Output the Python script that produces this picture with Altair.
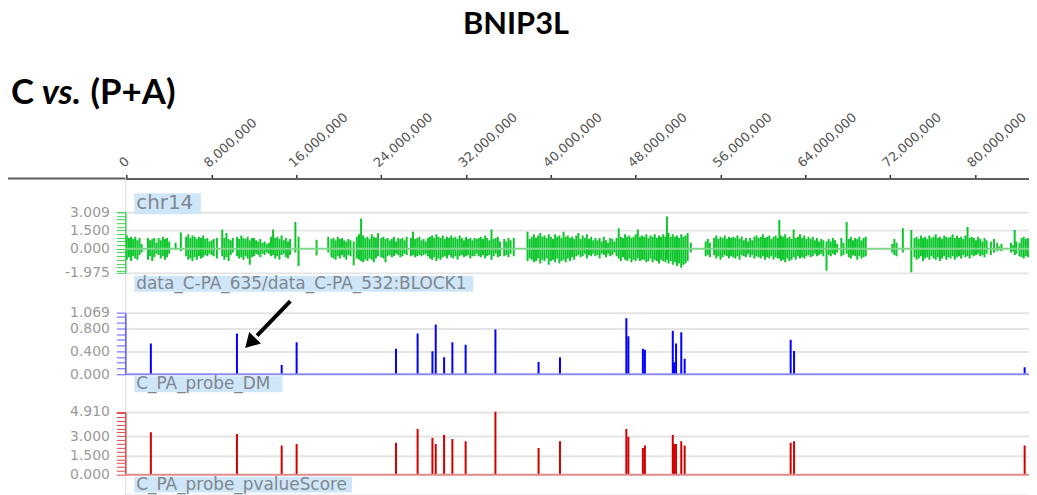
import altair as alt
import pandas as pd

# ---------------- text ----------------
TITLE = "BNIP3L"
SUBTITLE_PARTS = ["C", "vs.", "(P+A)"]
TRACK_LABELS = ["chr14", "data_C-PA_635/data_C-PA_532:BLOCK1",
                "C_PA_probe_DM", "C_PA_probe_pvalueScore"]

# ---------------- axes ----------------
X_TICKS_BP = [0, 8000000, 16000000, 24000000, 32000000, 40000000,
              48000000, 56000000, 64000000, 72000000, 80000000]
VIEW_BP = [-140000, 85100000]

GREEN_LABELS = [3.009, 1.5, 0.0, -1.975]
BLUE_LABELS = [1.069, 0.8, 0.4, 0.0]
RED_LABELS = [4.91, 3.0, 1.5, 0.0]

# ---------------- data: log-ratio track (position Mb, upper value, lower value) ----------------
GREEN_0_20 = [
    (0.0, 1.1, -0.9), (0.2, 0.9, -0.7), (0.4, 1.0, -1.0), (0.6, 0.8, -0.6), (0.8, 1.0, -0.8),
    (1.0, 0.7, -0.9), (1.2, 0.9, -0.5), (1.4, 0.4, -0.3),
    (2.0, 0.9, -0.9), (2.2, 0.7, -0.6), (2.4, 0.8, -1.0), (2.6, 0.9, -0.7), (2.8, 0.5, -0.4),
    (3.0, 0.9, -0.5), (3.2, 0.7, -0.8), (3.4, 1.0, -0.6), (3.6, 0.8, -0.9), (3.8, 0.9, -0.7),
    (4.0, 0.6, -0.4), (4.6, 0.5, -0.1), (5.1, 1.35, -0.2),
    (5.6, 1.0, -0.6), (5.8, 1.2, -0.9), (6.0, 0.9, -0.8), (6.2, 1.1, -1.0), (6.4, 1.0, -0.7),
    (6.6, 0.8, -0.9), (6.8, 1.0, -0.6), (7.0, 0.9, -0.8), (7.2, 1.1, -0.7), (7.4, 0.8, -0.5),
    (7.6, 0.9, -0.6), (7.8, 0.6, -0.4), (8.0, 0.7, -0.5), (8.2, 0.8, -0.6), (8.5, 0.9, -0.8),
    (9.0, 1.6, -0.6), (9.2, 0.9, -0.9), (9.4, 1.3, -0.7), (9.6, 0.8, -1.0), (9.8, 0.7, -0.5),
    (10.0, 0.9, -0.3), (10.4, 1.0, -0.6), (10.6, 0.8, -0.8), (10.8, 1.1, -0.7), (11.0, 0.9, -0.9),
    (11.2, 0.8, -0.6), (11.4, 1.0, -0.8), (11.6, 0.7, -1.3), (11.8, 0.9, -0.7),
    (12.0, 0.9, -0.6), (12.2, 0.7, -0.4), (12.4, 0.6, -0.5), (12.6, 0.8, -0.7), (12.8, 0.5, -0.4),
    (13.0, 0.6, -0.5), (13.2, 0.4, -0.3), (13.4, 0.5, -0.4),
    (13.6, 1.0, -0.6), (13.8, 1.6, -0.5), (14.0, 0.9, -0.8), (14.2, 1.0, -0.6), (14.4, 0.8, -0.9),
    (14.6, 1.1, -0.5), (14.8, 0.7, -0.4), (15.0, 0.9, -0.7), (15.2, 0.6, -0.8), (15.4, 0.8, -0.5),
    (15.9, 2.2, -0.3), (16.2, 1.0, -1.4), (17.9, 0.75, -0.55), (19.0, 1.0, -0.3),
    (19.3, 0.8, -0.7), (19.5, 0.9, -0.8), (19.7, 0.7, -0.9), (19.9, 1.0, -0.6),
]
GREEN_20_40 = [
    (20.1, 0.8, -0.8), (20.3, 0.9, -0.5), (20.5, 0.7, -0.7), (20.7, 0.6, -0.9), (20.9, 0.8, -0.5),
    (21.1, 0.7, -0.6), (21.4, 0.6, -1.35),
    (21.7, 1.0, -0.8), (21.9, 1.2, -0.9), (22.1, 2.5, -1.0), (22.3, 1.1, -1.1), (22.5, 0.9, -0.9),
    (22.7, 1.0, -1.0), (22.9, 0.8, -0.8), (23.1, 1.2, -0.9), (23.3, 1.0, -1.1), (23.5, 0.9, -0.8),
    (23.7, 1.3, -0.6),
    (24.0, 0.9, -0.7), (24.2, 1.0, -0.8), (24.4, 0.8, -1.1), (24.6, 0.9, -0.6), (24.8, 0.7, -0.5),
    (25.0, 0.8, -0.7), (25.2, 1.0, -0.6), (25.4, 0.6, -0.4),
    (25.6, 0.9, -0.5), (25.8, 0.8, -0.7), (26.0, 0.9, -0.6), (26.2, 0.7, -0.4), (26.4, 1.0, -0.5),
    (26.8, 0.9, -0.6), (27.0, 1.4, -0.5), (27.2, 0.8, -0.7), (27.4, 0.9, -0.6), (27.6, 1.0, -0.5),
    (27.8, 0.7, -0.6), (28.0, 0.8, -0.5), (28.2, 0.6, -0.4),
    (28.4, 0.9, -0.6), (28.6, 1.0, -0.8), (28.8, 1.1, -0.9), (29.0, 0.9, -0.7), (29.2, 1.2, -1.0),
    (29.4, 1.0, -0.8), (29.6, 0.9, -0.9), (29.8, 1.1, -0.7),
    (30.0, 0.8, -0.6), (30.2, 1.0, -0.8), (30.4, 0.9, -0.5), (30.6, 1.1, -0.7), (30.8, 0.9, -0.8),
    (31.0, 1.0, -0.6), (31.2, 0.8, -0.9), (31.4, 1.1, -0.6),
    (31.6, 0.9, -0.5), (31.8, 0.7, -0.7), (32.0, 1.0, -0.6), (32.2, 0.8, -0.5), (32.4, 0.9, -0.8),
    (32.6, 0.7, -0.6), (32.8, 0.9, -0.6), (33.0, 0.8, -0.4),
    (33.2, 0.9, -0.6), (33.4, 1.0, -0.7), (33.6, 0.8, -0.5), (33.8, 1.1, -0.8), (34.0, 0.9, -0.6),
    (34.2, 0.7, -0.5), (34.4, 1.6, -0.9), (34.6, 0.8, -0.6),
    (34.8, 0.9, -0.4), (35.0, 1.0, -0.7), (35.2, 0.6, -0.6), (35.6, 0.8, -0.6), (35.8, 0.6, -0.5),
    (36.0, 0.9, -0.7), (36.2, 0.7, -0.4), (36.5, 0.9, -0.6),
    (37.8, 1.4, -1.0), (38.0, 0.8, -0.8), (38.2, 1.0, -0.9), (38.4, 1.2, -1.1), (38.6, 0.9, -1.0),
    (38.8, 1.1, -0.8), (39.0, 1.3, -1.2), (39.2, 1.0, -0.9), (39.4, 1.1, -1.0), (39.6, 0.9, -0.8),
    (39.8, 1.2, -1.3),
]
GREEN_40_60 = [
    (40.0, 1.0, -1.0), (40.2, 0.8, -0.9), (40.4, 1.2, -1.1), (40.6, 1.0, -0.8), (40.8, 1.1, -1.2),
    (41.0, 0.9, -1.0), (41.2, 1.4, -0.9), (41.4, 1.0, -1.1), (41.6, 1.1, -0.8), (41.8, 0.9, -1.0),
    (42.0, 1.0, -0.7), (42.2, 0.8, -0.9),
    (42.4, 1.1, -0.6), (42.6, 1.3, -0.5), (42.8, 0.8, -0.7), (43.0, 1.1, -0.6), (43.2, 0.9, -0.4),
    (43.4, 1.2, -0.8), (43.6, 0.8, -0.5), (43.8, 1.0, -0.6), (44.0, 0.7, -0.4),
    (44.2, 0.9, -0.6), (44.4, 0.7, -0.5), (44.6, 0.9, -0.8), (44.8, 0.6, -0.4), (45.0, 1.0, -0.5),
    (45.2, 0.7, -0.7), (45.4, 0.5, -0.4), (45.6, 0.9, -0.6), (45.8, 0.8, -0.5), (46.0, 0.6, -0.3),
    (46.2, 0.9, -0.6), (46.4, 1.7, -0.8), (46.6, 1.0, -1.0), (46.8, 0.9, -0.7), (47.0, 1.2, -0.9),
    (47.2, 1.0, -1.0), (47.4, 1.1, -0.8), (47.6, 0.9, -1.1), (47.8, 1.0, -0.9), (48.0, 1.2, -1.0),
    (48.2, 1.6, -0.8), (48.4, 1.0, -1.0), (48.6, 1.1, -0.9), (48.8, 1.0, -0.9), (49.0, 1.2, -1.1),
    (49.2, 0.9, -1.0), (49.4, 1.1, -0.8), (49.6, 1.0, -1.1), (49.8, 1.2, -0.9), (50.0, 0.9, -1.0),
    (50.2, 1.1, -1.2), (50.4, 1.0, -0.9), (50.6, 1.2, -1.0), (50.8, 1.0, -1.1), (50.95, 2.65, -0.9),
    (51.1, 1.3, -1.2), (51.3, 1.0, -1.0), (51.5, 1.2, -1.3), (51.7, 1.0, -1.1), (51.9, 1.1, -1.4),
    (52.1, 0.9, -1.2), (52.3, 1.2, -1.55), (52.5, 1.0, -1.3), (52.7, 1.1, -1.2), (52.9, 1.3, -1.0),
    (53.2, 0.5, -0.3),
    (54.6, 0.6, -0.6), (54.8, 0.8, -0.5), (55.0, 0.5, -0.7),
    (55.4, 0.9, -0.5), (55.6, 1.1, -0.8), (55.8, 0.8, -0.6), (56.0, 1.0, -0.9), (56.2, 0.9, -0.7),
    (56.4, 1.1, -0.5), (56.6, 0.8, -0.6), (56.8, 1.0, -0.8), (57.0, 0.9, -0.6), (57.2, 1.0, -0.7),
    (57.4, 0.9, -0.8), (57.6, 1.1, -0.6), (57.8, 0.8, -0.9), (58.0, 1.0, -0.5), (58.2, 0.7, -0.6),
    (58.4, 0.9, -0.7), (58.6, 0.6, -0.4), (58.8, 0.9, -0.7), (59.0, 0.7, -0.5), (59.2, 1.0, -0.8),
    (59.4, 1.1, -0.6), (59.6, 0.9, -0.7), (59.8, 1.0, -0.8),
]
GREEN_60_86 = [
    (60.0, 1.2, -0.6), (60.2, 0.9, -0.9), (60.4, 1.0, -0.7), (60.6, 1.1, -0.8), (60.8, 0.8, -0.6),
    (61.0, 1.0, -0.9), (61.2, 1.1, -0.7), (61.4, 0.9, -0.8), (61.55, 2.4, -0.8), (61.7, 1.1, -1.0),
    (61.9, 1.0, -0.9), (62.1, 1.2, -1.1), (62.3, 0.9, -0.8), (62.5, 1.0, -1.0), (62.7, 0.8, -0.9),
    (62.9, 1.6, -0.7), (63.1, 0.9, -0.9), (63.3, 1.0, -0.6), (63.5, 1.2, -0.8), (63.7, 0.9, -0.7),
    (63.9, 1.1, -0.8), (64.1, 0.8, -0.6), (64.3, 1.0, -0.5), (64.5, 0.8, -0.7), (64.7, 1.0, -0.6),
    (64.9, 0.7, -0.4), (65.1, 0.9, -0.6), (65.3, 0.6, -0.5), (65.5, 0.8, -0.4), (65.7, 0.7, -0.6),
    (66.0, 0.6, -1.8), (66.2, 0.8, -0.5), (66.4, 0.6, -0.6), (66.6, 0.9, -0.4), (66.8, 0.7, -0.5),
    (67.0, 0.4, -0.3),
    (67.4, 0.9, -0.6), (67.6, 0.5, -0.5), (67.9, 2.2, -0.4), (68.1, 0.8, -0.7), (68.3, 1.0, -0.8),
    (68.5, 0.7, -0.5), (68.7, 0.9, -0.6), (68.9, 0.8, -0.9), (69.1, 1.0, -0.6), (69.3, 0.7, -0.8),
    (69.5, 0.9, -0.7), (69.7, 1.0, -0.6),
    (72.2, 0.4, -0.3), (72.4, 0.8, -0.5), (72.6, 0.5, -0.6), (73.2, 1.7, -0.3), (74.0, 1.55, -1.92),
    (74.3, 0.9, -0.7), (74.5, 1.0, -0.9), (74.7, 0.8, -0.8), (74.9, 1.1, -0.6), (75.1, 0.9, -1.0),
    (75.3, 1.0, -0.8), (75.5, 0.8, -0.7), (75.7, 1.1, -0.9), (75.9, 0.9, -0.6), (76.1, 1.0, -0.8),
    (76.3, 1.2, -0.9), (76.5, 0.9, -0.7), (76.7, 1.0, -1.0), (76.9, 0.8, -0.8), (77.1, 1.1, -0.6),
    (77.3, 1.0, -0.9), (77.5, 0.9, -0.7), (77.7, 1.0, -0.8), (77.9, 1.2, -0.6), (78.1, 0.9, -0.9),
    (78.3, 1.1, -0.7), (78.5, 0.9, -0.6), (78.7, 1.0, -0.8), (78.9, 0.8, -0.5), (79.1, 1.1, -0.7),
    (79.3, 1.8, -0.6), (79.5, 0.9, -0.8), (79.7, 1.0, -0.5), (79.9, 0.9, -0.6), (80.1, 0.7, -0.5),
    (80.3, 1.0, -0.4), (80.5, 0.8, -0.6), (80.7, 0.6, -0.5), (80.9, 0.9, -0.7), (81.1, 0.7, -0.4),
    (81.5, 0.6, -0.5), (81.8, 0.8, -0.3), (82.1, 0.5, -0.2), (82.3, 0.2, -0.1), (82.5, 0.4, -0.2),
    (83.4, 0.5, -0.3), (83.6, 0.3, -0.2), (83.75, 1.55, -0.5), (83.9, 0.6, -0.4), (84.2, 0.5, -0.6),
    (84.4, 0.9, -0.7), (84.6, 1.0, -0.8), (84.8, 0.8, -0.6), (85.0, 0.9, -0.7),
]

# ---------------- data: probe tracks ----------------
PROBE_POS_MB = [2.27, 10.39, 14.61, 16.02, 25.39, 27.43, 28.83, 29.14, 29.93, 30.71, 31.96,
                34.77, 38.84, 40.86, 47.12, 47.31, 48.68, 48.87, 51.50, 51.62, 51.81, 52.30,
                52.62, 62.62, 62.94, 84.69]
DM_VALUES = [0.537, 0.71, 0.16, 0.56, 0.445, 0.71, 0.40, 0.867, 0.295, 0.56, 0.515, 0.78,
             0.213, 0.295, 0.976, 0.664, 0.445, 0.428, 0.757, 0.21, 0.537, 0.733, 0.272,
             0.601, 0.404, 0.121]
PVALUE_SCORES = [3.31, 3.18, 2.27, 2.40, 2.50, 3.57, 2.89, 2.40, 3.10, 2.79, 2.61, 4.91,
                 2.09, 2.61, 3.57, 2.97, 2.09, 2.27, 3.10, 2.40, 2.40, 2.61, 2.27, 2.50,
                 2.61, 2.27]

# ---------------- styling ----------------
W, H = 909, 318
GREEN, BLUE, RED = "#0cc62b", "#0000ff", "#d00000"
GREEN_AX, BLUE_AX, RED_AX = "#45cf58", "#5a5aff", "#e04a4a"
LABEL_FONT = "DejaVu Sans"

green_rows = []
for grp in (GREEN_0_20, GREEN_20_40, GREEN_40_60, GREEN_60_86):
    for p, hi, lo in grp:
        green_rows.append({"pos": p * 1e6, "value": hi})
        green_rows.append({"pos": p * 1e6, "value": lo})
green_df = pd.DataFrame(green_rows)
dm_df = pd.DataFrame({"pos": [p * 1e6 for p in PROBE_POS_MB], "value": DM_VALUES})
pv_df = pd.DataFrame({"pos": [p * 1e6 for p in PROBE_POS_MB], "value": PVALUE_SCORES})

x_scale = alt.Scale(domain=VIEW_BP, nice=False, zero=False)
x_axis = alt.Axis(orient="top", values=X_TICKS_BP, format=",d", labelAngle=-42,
                  labelAlign="left", labelBaseline="middle", labelFont=LABEL_FONT,
                  labelFontSize=13, labelColor="#555555", labelPadding=10, labelOffset=-6,
                  tickSize=4, tickColor="#333333", tickWidth=1.5, domainColor="#606060",
                  domainWidth=2, grid=False, title=None, labelOverlap=False,
                  labelFlush=False, labelBound=False)


def minor_ticks(lo, hi, step, extra):
    n = int(round((hi - lo) / step))
    return sorted(set([round(lo + step * i, 3) for i in range(n + 1)] + extra))


def y_axis(labels, ticks, color):
    cond = " || ".join(f"abs(datum.value - ({v})) < 1e-6" for v in labels)
    gcond = " || ".join(f"abs(datum.value - ({v})) < 1e-6" for v in labels if v != 0)
    return alt.Axis(orient="left", values=ticks, format=".3f",
                    labelExpr=f"({cond}) ? replace(datum.label, '\u2212', '-') : ''",
                    labelFont=LABEL_FONT, labelFontSize=14, labelColor="#9a9a9a",
                    labelPadding=7, tickSize=9, tickColor=color, tickWidth=1,
                    domainColor=color, domainWidth=1.5, grid=True, gridColor="#e4e4e4",
                    gridWidth=2,
                    gridOpacity={"condition": {"test": gcond, "value": 1}, "value": 0},
                    title=None, labelOverlap=False, labelFlush=False, labelBound=False)


g_scale = dict(domain=[-1.975, 3.009], range=[95, 34], nice=False, zero=False)
b_scale = dict(domain=[0, 1.069], range=[197, 135.3], nice=False, zero=False)
r_scale = dict(domain=[0, 4.91], range=[298, 234.7], nice=False, zero=False)

green = alt.Chart(green_df).mark_rule(color=GREEN, strokeWidth=2, clip=True).encode(
    x=alt.X("pos:Q", scale=x_scale, axis=x_axis),
    y=alt.Y("value:Q", scale=alt.Scale(**g_scale),
            axis=y_axis(GREEN_LABELS, minor_ticks(-1.8, 3.0, 0.3, [3.009, -1.975]), GREEN_AX)),
    y2=alt.Y2(datum=0),
)
blue = alt.Chart(dm_df).mark_rule(color=BLUE, strokeWidth=2, clip=True).encode(
    x=alt.X("pos:Q", scale=x_scale, axis=x_axis),
    y=alt.Y("value:Q", scale=alt.Scale(**b_scale),
            axis=y_axis(BLUE_LABELS, minor_ticks(0, 1.0, 0.1, [1.069]), BLUE_AX)),
    y2=alt.Y2(datum=0),
)
red = alt.Chart(pv_df).mark_rule(color=RED, strokeWidth=2, clip=True).encode(
    x=alt.X("pos:Q", scale=x_scale, axis=x_axis),
    y=alt.Y("value:Q", scale=alt.Scale(**r_scale),
            axis=y_axis(RED_LABELS, minor_ticks(0, 4.8, 0.3, [4.91]), RED_AX)),
    y2=alt.Y2(datum=0),
)

one = pd.DataFrame({"k": [0]})


def baseline(scale, color):
    return alt.Chart(one).mark_rule(color=color, strokeWidth=2).encode(
        y=alt.Y(datum=0, scale=alt.Scale(**scale), axis=None),
        x=alt.value(0), x2=alt.value(W))


g_base = baseline(g_scale, "#7fd88a")
b_base = baseline(b_scale, "#8c8cf0")
r_base = baseline(r_scale, "#e08a8a")

axis_ext = alt.Chart(one).mark_rule(color="#606060", strokeWidth=2).encode(
    x=alt.value(-118), x2=alt.value(0), y=alt.value(0))


def label_box(text, x, y, size, x2, y1, y2):
    df = pd.DataFrame({"t": [text]})
    box = alt.Chart(df).mark_rect(color="#cfe6f8").encode(
        x=alt.value(x - 2), x2=alt.value(x2), y=alt.value(y1), y2=alt.value(y2))
    txt = alt.Chart(df).mark_text(align="left", baseline="middle", font=LABEL_FONT,
                                  fontSize=size, color="#7f8790").encode(
        text="t:N", x=alt.value(x), y=alt.value(y))
    return box + txt


lab0 = label_box(TRACK_LABELS[0], 11, 25, 20, 76, 15, 36)
lab1 = label_box(TRACK_LABELS[1], 11, 106, 17, 350, 98, 114)
lab2 = label_box(TRACK_LABELS[2], 11, 207, 17, 158, 199, 215)
lab3 = label_box(TRACK_LABELS[3], 11, 308, 17, 228, 300, 316)

title_df = pd.DataFrame({"t": [TITLE]})
title = alt.Chart(title_df).mark_text(align="center", baseline="alphabetic", font="Lato",
                                      fontWeight="bold", fontSize=31, color="#000000").encode(
    text="t:N", x=alt.value(393), y=alt.value(-145))


def head_part(text, x, italic):
    df = pd.DataFrame({"t": [text]})
    return alt.Chart(df).mark_text(align="left", baseline="alphabetic", font="Lato",
                                   fontWeight="bold", fontStyle="italic" if italic else "normal",
                                   fontSize=35, color="#000000").encode(
        text="t:N", x=alt.value(x), y=alt.value(-75))


head = (head_part(SUBTITLE_PARTS[0], -115, False) + head_part(SUBTITLE_PARTS[1], -84, True)
        + head_part(SUBTITLE_PARTS[2], -35, False))

arrow_shaft = alt.Chart(one).mark_rule(color="black", strokeWidth=4).encode(
    x=alt.value(166), y=alt.value(123.5), x2=alt.value(132.5), y2=alt.value(158.2))
arrow_head = alt.Chart(one).mark_point(shape="triangle", filled=True, size=270, angle=224,
                                       color="black", opacity=1).encode(
    x=alt.value(127.2), y=alt.value(163.7))

chart = alt.layer(
    green, blue, red, g_base, b_base, r_base, axis_ext,
    lab0, lab1, lab2, lab3, title, head, arrow_shaft, arrow_head,
).resolve_scale(y="independent").resolve_axis(y="independent").properties(
    width=W, height=H, autosize=alt.AutoSizeParams(type="none"),
    padding={"left": 118, "top": 170, "right": 0, "bottom": 0},
).configure_view(stroke=None).configure(background="white")

chart.save("out.html", embed_options={"renderer": "svg", "actions": False})
